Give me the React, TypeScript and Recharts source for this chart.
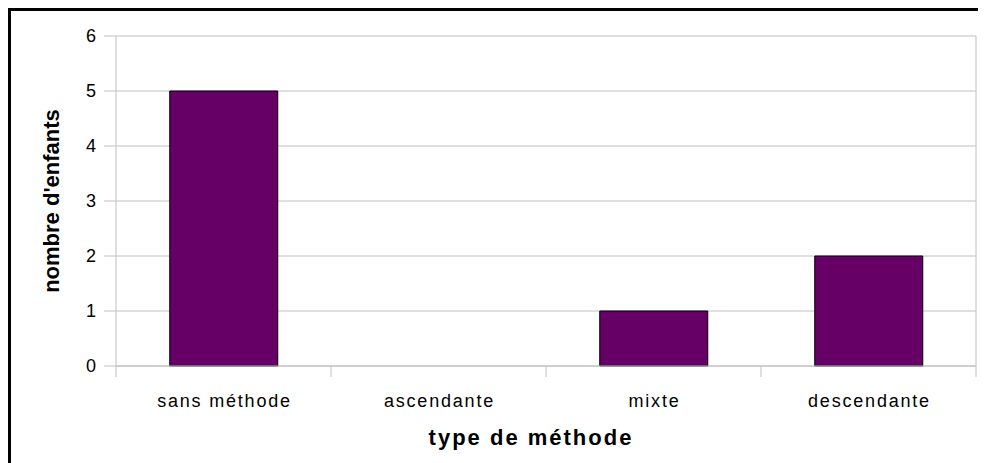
import { BarChart, Bar, XAxis, YAxis, CartesianGrid, ReferenceLine } from "recharts";

const CATEGORIES = ["sans méthode", "ascendante", "mixte", "descendante"];
const ENFANTS = [5, 0, 1, 2];
const Y_TICKS = [0, 1, 2, 3, 4, 5, 6];

const data = CATEGORIES.map((type, i) => ({ type, enfants: ENFANTS[i] }));

const GRID = "#c0c0c0";
const FONT = "'Liberation Sans', Arial, sans-serif";

function XTick(props: any) {
  const { x, y, payload, index, visibleTicksCount, width } = props;
  const half = width / visibleTicksCount / 2;
  return (
    <g>
      <line x1={x - half} x2={x - half} y1={y} y2={y + 11} stroke={GRID} />
      {index === visibleTicksCount - 1 && (
        <line x1={x + half} x2={x + half} y1={y} y2={y + 11} stroke={GRID} />
      )}
      <text
        x={x + 1}
        y={y + 41}
        textAnchor="middle"
        fill="#000"
        fontSize={18}
        fontFamily={FONT}
        letterSpacing={1.8}
      >
        {payload.value}
      </text>
    </g>
  );
}

export default function App() {
  return (
    <>
      <style>{`html,body{overflow:hidden;} .recharts-wrapper, .recharts-surface{outline:none;}`}</style>
      <div
        style={{
          borderTop: "3px solid #000",
          borderLeft: "3px solid #000",
          width: 975,
          height: 452,
        }}
      >
        <BarChart
          width={975}
          height={444}
          data={data}
          margin={{ top: 25, right: 10, bottom: 0, left: 0 }}
          barCategoryGap="25%"
          accessibilityLayer={false}
        >
          <CartesianGrid vertical={false} stroke={GRID} />
          <XAxis
            dataKey="type"
            height={89}
            tickLine={false}
            tickSize={0}
            tickMargin={0}
            axisLine={{ stroke: GRID }}
            tick={<XTick />}
            interval={0}
            label={{
              value: "type de méthode",
              position: "insideBottom",
              offset: 10,
              dx: -15,
              style: {
                fontSize: 22,
                fontWeight: "bold",
                fontFamily: FONT,
                fill: "#000",
                letterSpacing: 2,
              },
            }}
          />
          <YAxis
            width={105}
            domain={[0, 6]}
            ticks={Y_TICKS}
            interval={0}
            tickSize={12}
            tickMargin={8}
            tickLine={{ stroke: GRID }}
            axisLine={{ stroke: GRID }}
            tick={{ fill: "#000", fontSize: 18, fontFamily: FONT }}
            label={{
              value: "nombre d'enfants",
              angle: -90,
              position: "insideLeft",
              offset: 40,
              style: {
                textAnchor: "middle",
                fontSize: 22,
                fontWeight: "bold",
                fontFamily: FONT,
                fill: "#000",
              },
            }}
          />
          <ReferenceLine x={CATEGORIES[CATEGORIES.length - 1]} position="end" stroke={GRID} />
          <Bar
            dataKey="enfants"
            fill="#660066"
            stroke="#000"
            strokeWidth={1}
            isAnimationActive={false}
          />
        </BarChart>
      </div>
    </>
  );
}
